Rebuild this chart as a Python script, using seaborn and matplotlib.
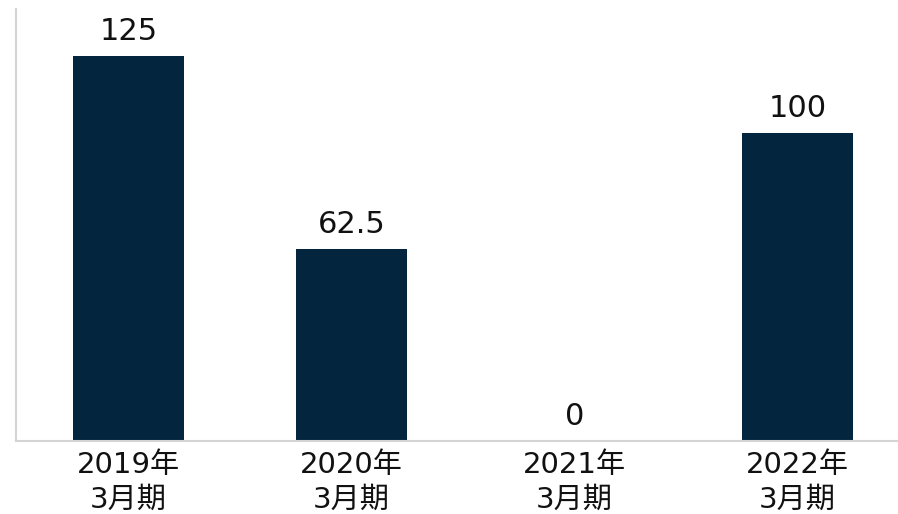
import matplotlib
matplotlib.use("Agg")
import matplotlib.pyplot as plt
import seaborn as sns
import pandas as pd

categories = ["2019年\n3月期", "2020年\n3月期", "2021年\n3月期", "2022年\n3月期"]
values = [125, 62.5, 0, 100]

df = pd.DataFrame({"period": categories, "value": values})

sns.set_theme(style="white")
plt.rcParams['font.family'] = ['DejaVu Sans', 'Noto Sans CJK JP']

fig = plt.figure(figsize=(8.98, 5.14), dpi=100)
ax = fig.add_axes([16/898, 1-441/514, 1-16/898, (441-9)/514])

sns.barplot(data=df, x="period", y="value", color="#03253D", width=0.5,
            saturation=1, ax=ax, edgecolor="none")

for c in ax.containers:
    ax.bar_label(c, labels=[f"{v:g}" for v in values], padding=7,
                 fontsize=22, color="#111111")

ax.set_xlim(-0.504, 3.451)
ax.set_ylim(0, 140.3)
ax.set_xlabel("")
ax.set_ylabel("")
ax.set_yticks([])
ax.tick_params(axis="x", length=0, labelsize=21, pad=7, colors="#111111")
for t in ax.get_xticklabels():
    t.set_linespacing(1.3)
for s in ["top", "right"]:
    ax.spines[s].set_visible(False)
for s in ["left", "bottom"]:
    ax.spines[s].set_color("#d4d4d4")
    ax.spines[s].set_linewidth(1.5)

fig.savefig("out.png", dpi=100)
